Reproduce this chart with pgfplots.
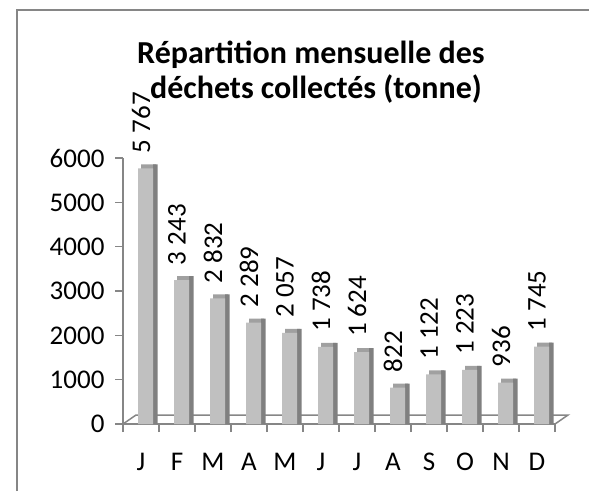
\documentclass[border=0pt]{standalone}
\usepackage{fontspec}
\setmainfont{Carlito}
\usepackage{pgfplots}
\usepackage{pgfplotstable}
\pgfplotsset{compat=1.18}
\definecolor{axgray}{RGB}{134,134,134}
\definecolor{barfront}{RGB}{192,192,192}
\definecolor{barside}{RGB}{128,128,128}
\definecolor{bartop}{RGB}{160,160,160}
\pgfplotstableread{
x y
0 5767
1 3243
2 2832
3 2289
4 2057
5 1738
6 1624
7 822
8 1122
9 1223
10 936
11 1745
}\datatable
\begin{document}
\begin{tikzpicture}
\useasboundingbox (0pt,0pt) rectangle (589pt,-491pt);
\draw[axgray,line width=1.3pt] (17pt,-491pt) -- (17pt,-10pt) -- (589pt,-10pt);
\node[font=\fontsize{32}{38}\selectfont\bfseries, anchor=base, inner sep=0pt] at (311pt,-63pt) {Répartition mensuelle des};
\node[font=\fontsize{32}{38}\selectfont\bfseries, anchor=base, inner sep=0pt] at (316pt,-98pt) {déchets collectés (tonne)};
\begin{axis}[
  at={(123pt,-424pt)}, anchor=south west,
  scale only axis, width=432pt, height=266pt,
  xmin=-0.5, xmax=11.5, ymin=0, ymax=6000,
  axis x line*=bottom, axis y line*=left,
  axis line style={axgray, line width=1.5pt},
  tick align=outside, major tick length=8pt,
  tick style={axgray, line width=1.5pt},
  ytick={0,1000,...,6000},
  xtick={-0.5,0.5,...,11.5},
  x tick label as interval,
  xticklabels={J,F,M,A,M,J,J,A,S,O,N,D},
  ticklabel style={font=\fontsize{27}{32}\selectfont},
  xticklabel style={anchor=base, yshift=-38pt},
  /pgf/number format/assume math mode=true,
  yticklabel style={/pgf/number format/1000 sep={}, xshift=-7pt},
  clip=false,
]
\draw[axgray, line width=1.5pt] (rel axis cs:0,0) -- ++(13pt,9pt) -- ([shift={(13pt,9pt)}]rel axis cs:1,0) -- (rel axis cs:1,0);
\addplot[ybar, bar width=15pt, bar shift=7.5pt, fill=bartop, draw=none, y filter/.expression={y+90}] table[x=x,y=y]{\datatable};
\addplot[ybar, bar width=4.5pt, bar shift=14.25pt, fill=barside, draw=none, y filter/.expression={y+90}] table[x=x,y=y]{\datatable};
\addplot[ybar, bar width=15pt, bar shift=4.5pt, fill=barfront, draw=none,
  nodes near coords={\pgfmathprintnumber[1000 sep={\ }]{\pgfplotspointmeta}},
  every node near coord/.append style={rotate=90, anchor=west, inner xsep=15pt, inner ysep=0pt, font=\fontsize{27}{32}\selectfont}]
  table[x=x,y=y]{\datatable};
\end{axis}
\end{tikzpicture}
\end{document}
